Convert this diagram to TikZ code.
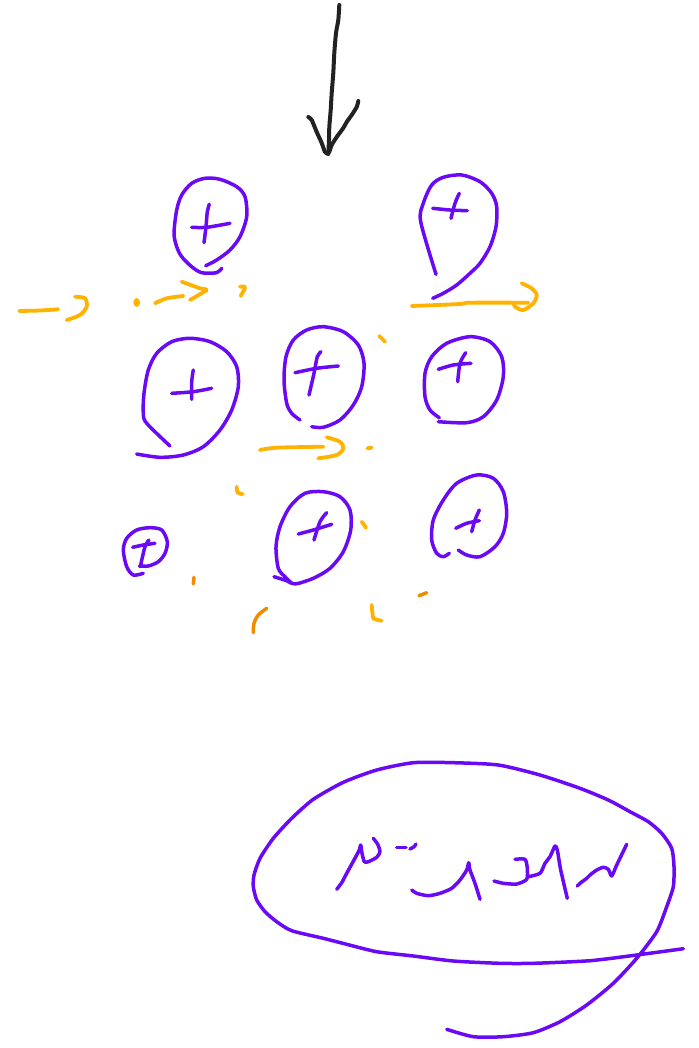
\documentclass[tikz,border=0pt]{standalone}
\usepackage{tikz}
\usepackage{xcolor}
\definecolor{penpurple}{HTML}{6A0AF5}
\definecolor{penyellow}{HTML}{FFB300}
\definecolor{penorange}{HTML}{F08C00}
\definecolor{penblack}{HTML}{222222}

\begin{document}
\begin{tikzpicture}[x=1pt,y=-1pt]
    \tikzstyle{ink} = [line cap=round, line join=round]
    \tikzstyle{arrowink} = [ink, draw=penblack, line width=4pt]
    \tikzstyle{bubble} = [ink, draw=penpurple, line width=3.5pt]
    \tikzstyle{hint} = [ink, draw=penyellow, line width=3.8pt]
    \tikzstyle{hintdark} = [ink, draw=penorange, line width=3.5pt]

    \useasboundingbox (0,0) rectangle (698,1048);

    % Down arrow
    \draw[arrowink] plot[smooth, tension=0.4] coordinates {(339.3,5) (338.3,20) (336,33) (334.3,53) (333.3,73) (331.7,93) (330.7,110) (329.3,127) (329,140) (328.3,153)};
    \draw[arrowink] plot[smooth, tension=0.4] coordinates {(308.3,117) (311.7,120) (316.7,132) (321.7,143) (325,152) (328.3,154)};
    \draw[arrowink] plot[smooth, tension=0.4] coordinates {(358.3,101) (356.7,107) (351.7,115) (346.7,122) (343.3,128) (336.7,137) (331.7,145) (329.3,152)};

    % Top row
    \draw[bubble] plot[smooth, tension=0.5] coordinates {(205.7,265.7) (216.7,260) (230,250) (240,236.7) (246.7,216.7) (245,196.7) (236.7,186.7) (220,179.3) (205,178.3) (191.7,183.3) (181.7,195) (176.7,210) (174,233.3) (176.7,246.7) (181.7,256.7) (191.7,266.7) (201.7,272.7) (216.7,272.7) (221.7,268.3)};
    \draw[bubble] plot[smooth] coordinates {(209.3,204.3) (207.3,211.7) (206,226.7) (204,242.7)};
    \draw[bubble] plot[smooth] coordinates {(191.7,227.3) (206.7,227.3) (230,223.3)};

    \draw[bubble] plot[smooth, tension=0.5] coordinates {(436,274.3) (420.7,221.7) (423.3,203.3) (431.7,185) (443.3,177.3) (461.7,175) (480,181.7) (491.7,193.3) (496.7,206.7) (496,226.7) (490,246.7) (480,263.3) (470,273.3) (456.7,285) (443.3,293.3) (432.7,298.3)};
    \draw[bubble] plot[smooth] coordinates {(432.7,208.3) (450,210) (467.3,210.7)};
    \draw[bubble] plot[smooth] coordinates {(459.3,193.3) (455,203.3) (451,218.3)};

    % Middle row
    \draw[bubble] plot[smooth, tension=0.5] coordinates {(170,446) (146.7,423.3) (143.3,413.3) (144,393.3) (148.3,370) (156.7,353.3) (171.7,341.7) (190,338.3) (210,341.7) (226.7,351.7) (236.7,366.7) (238.3,386.7) (231.7,410) (220,430) (203.3,446.7) (183.3,455) (160,457.3) (136.7,454)};
    \draw[bubble] plot[smooth] coordinates {(171.7,393.3) (193.3,391.7) (211.7,388.3)};
    \draw[bubble] plot[smooth] coordinates {(193.3,370) (191.7,381.7) (191.7,399.3)};

    \draw[bubble] plot[smooth, tension=0.5] coordinates {(300,420) (291.7,413.3) (286.7,403.3) (284,380) (286,356.7) (293.3,340) (306.7,330) (323.3,326.7) (343.3,331.7) (358.3,345) (364,363.3) (361.7,386.7) (353.3,405) (340,420) (323.3,427.3) (311.7,426.7)};
    \draw[bubble] plot[smooth] coordinates {(295,372.7) (316.7,368.3) (338.3,366)};
    \draw[bubble] plot[smooth] coordinates {(321,351.7) (317.3,356.7) (314,373.3) (309,395)};

    \draw[bubble] plot[smooth, tension=0.5] coordinates {(439.3,417.7) (430,410) (425,396.7) (425,373.3) (431.7,356.7) (446.7,343.3) (470,336.7) (490,341.7) (501.7,356.7) (503.3,376.7) (496.7,400) (483.3,416.7) (466.7,422.7) (438.3,421.7)};
    \draw[bubble] plot[smooth] coordinates {(438.3,369.3) (453.3,365) (471,363.3)};
    \draw[bubble] plot[smooth] coordinates {(465.7,352.7) (460,363.3) (457.7,381.7)};

    % Bottom row
    \draw[bubble] plot[smooth, tension=0.5] coordinates {(143.3,573.3) (133.3,575) (126.7,566.7) (123.3,550) (126.7,538.3) (136.7,530) (150,527.7) (161.7,530) (167.3,541.7) (165,553.3) (158.3,561.7) (148.3,566) (139.3,566)};
    \draw[bubble] plot[smooth] coordinates {(132.7,547.3) (143.3,545) (155,543.3)};
    \draw[bubble] plot[smooth] coordinates {(149,540) (145,546.7) (140.7,565)};

    \draw[bubble] plot[smooth, tension=0.5] coordinates {(274,576.7) (286.7,580.7) (295,584) (313.3,578.3) (330,568.3) (343.3,551.7) (350.7,530) (350,510) (340,496.7) (323.3,491.7) (305,493.3) (290,506.7) (280,526.7) (276,546.7) (278.3,568.3) (285,576.7) (291.7,583.3)};
    \draw[bubble] plot[smooth] coordinates {(298.3,534) (313.3,530) (331.7,524.3)};
    \draw[bubble] plot[smooth] coordinates {(326.7,512.7) (320,521.7) (314,540)};

    \draw[bubble] plot[smooth, tension=0.5] coordinates {(449.3,553.3) (443.3,556.7) (436.7,553.3) (431.7,540) (433.3,520) (443.3,500) (456.7,483.3) (476.7,475) (493.3,478.3) (503.3,491.7) (506.7,513.3) (503.3,533.3) (495,546.7) (480,556.7) (466.7,555) (458.3,550)};
    \draw[bubble] plot[smooth] coordinates {(455.7,528.3) (466.7,523.3) (479.3,520.7)};
    \draw[bubble] plot[smooth] coordinates {(479.3,510) (475,520) (471.7,531.7)};

    % Orange strokes
    \draw[hint] plot[smooth] coordinates {(19.3,311) (40,310.5) (58.3,309.3)};
    \draw[hint] plot[smooth] coordinates {(75,296.7) (85,298.3) (86.7,306.7) (80,315) (66.7,320)};
    \fill[penyellow] (136.7,302.5) ellipse (3.4 and 4.4);
    \draw[hint] plot[smooth] coordinates {(155,303.3) (166.7,298.3) (183.3,296)};
    \draw[hint] plot[smooth, tension=0.3] coordinates {(181.7,281.7) (200,288.3) (206.7,290) (190,300)};
    \draw[hint] plot[smooth] coordinates {(240,286.7) (245,287.3) (240.7,296)};

    \draw[hint] plot[smooth] coordinates {(411.7,306) (460,304) (470,302.7) (528.3,302.7)};
    \draw[hint] plot[smooth] coordinates {(521.7,283.3) (531.7,288.3) (536.7,295) (533.3,303.3) (523.3,310) (515,306.7) (513.3,302.7)};

    \draw[hint] (379.3,336) -- (385,341.7);
    \draw[hint] plot[smooth] coordinates {(260,450) (276.7,447.7) (323.3,446.7)};
    \draw[hint] plot[smooth] coordinates {(326.7,437.3) (340,441.7) (343.3,448.3) (336.7,455) (318.3,458.3)};
    \draw[hint] (367.3,448.3) -- (371.7,447.7);

    \draw[hint] plot[smooth] coordinates {(236.7,486.7) (237.7,492.7) (242.7,494)};
    \draw[hint] (361.7,521.7) -- (366,527.7);
    \draw[hintdark] (194,577.3) -- (193.3,584);
    \draw[hintdark] plot[smooth] coordinates {(266.7,608.3) (258.3,615) (254,623.3) (253.3,632.7)};
    \draw[hint] plot[smooth, tension=0.3] coordinates {(371.7,605) (373.3,618.3) (381.7,620.7)};
    \draw[hintdark] (419,595.7) -- (426.7,592.7);

    % Big loop with writing
    \draw[bubble] plot[smooth, tension=0.4] coordinates {(446.7,1029.3) (473.3,1036.7) (503.3,1036.7) (533.3,1032.7) (560,1021.7) (586.7,1005) (613.3,983.3) (636.7,958.3) (656.7,931.7) (666.7,906.7) (673.3,886.7) (674,866.7) (671.7,848.3) (661.7,833.3) (648.3,821.7) (630,811.7) (608.3,800) (580,788.3) (540,775) (498.3,765) (453.3,762.7) (413.3,762.7) (376.7,770) (343.3,782.3) (313.3,799.3) (291.7,818.3) (273.3,838.3) (260,858.3) (254,875) (253.3,886.7) (256.7,900) (265,911.7) (276.7,921.7) (291.7,930.7) (323.3,938.3) (346.7,944.3) (376.7,951.7) (413.3,956) (453.3,961) (500,963.3) (533.3,963.3) (590,960.7) (636.7,955) (683.3,948.7)};

    \draw[bubble] plot[smooth, tension=0.4] coordinates {(336.7,889.3) (341.7,882.7) (346.7,873.3) (354,860) (359.3,850) (360.7,845) (362,853.3) (364.3,861.7) (368.3,861.7) (376.7,857.3) (380,851.7) (377.7,844.3) (373.3,838.3)};
    \draw[bubble] (396.7,847.7) -- (406,847.7);
    \draw[bubble] plot[smooth] coordinates {(410,849) (414,846.7) (416,844)};
    \draw[bubble] plot[smooth, tension=0.4] coordinates {(411.7,890) (416.7,893.3) (428.3,895.7) (440,893.3) (451.7,888.3) (460,880) (466.7,870) (468.7,862.7) (470,870) (475,883.3) (480,899.3)};
    \draw[bubble] plot[smooth, tension=0.4] coordinates {(494,881) (503.3,883.3) (516.7,884) (526.7,879.3) (527.3,868.3) (525,859.3) (515,859.3)};
    \draw[bubble] plot[smooth, tension=0.4] coordinates {(528.3,876.7) (540,873.3) (545,863.3) (550,856.7) (555,846) (557.3,850) (560.7,870) (567.3,898.3)};
    \draw[bubble] plot[smooth, tension=0.4] coordinates {(577.3,886) (580,883.3) (586.7,878.3) (590,875) (596.7,870) (603.3,867.3) (608.3,869.3) (611.7,876) (616.7,865) (626.7,844.3)};
\end{tikzpicture}
\end{document}
